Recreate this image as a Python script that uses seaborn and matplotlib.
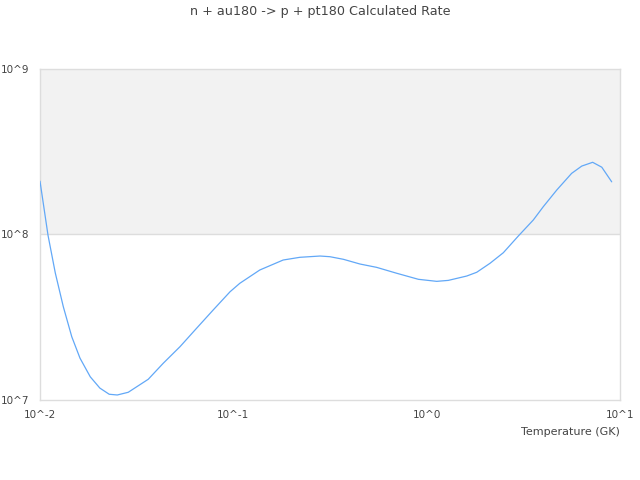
import numpy as np
import pandas as pd
import seaborn as sns
import matplotlib.pyplot as plt
from matplotlib.ticker import FuncFormatter, NullLocator

# temperature grid (GK) and calculated rate
temperature = [0.0100, 0.0110, 0.0120, 0.0132, 0.0146, 0.0161, 0.0182, 0.0204,
               0.0228, 0.0251, 0.0286, 0.0363, 0.0434, 0.0530, 0.0634, 0.0787,
               0.0962, 0.108, 0.137, 0.181, 0.221, 0.281, 0.316, 0.371,
               0.452, 0.551, 0.700, 0.906, 1.127, 1.294, 1.611, 1.815,
               2.127, 2.492, 2.979, 3.562, 4.01, 4.71, 5.62, 6.34,
               7.22, 8.05, 9.06]
rate = [2.10e8, 9.9e7, 5.85e7, 3.66e7, 2.41e7, 1.79e7, 1.38e7, 1.18e7,
        1.083e7, 1.072e7, 1.113e7, 1.334e7, 1.667e7, 2.10e7, 2.65e7, 3.50e7,
        4.51e7, 5.07e7, 6.10e7, 7.01e7, 7.28e7, 7.41e7, 7.34e7, 7.08e7,
        6.63e7, 6.33e7, 5.83e7, 5.36e7, 5.21e7, 5.28e7, 5.61e7, 5.91e7,
        6.70e7, 7.76e7, 9.79e7, 1.224e8, 1.472e8, 1.857e8, 2.34e8, 2.59e8,
        2.73e8, 2.55e8, 2.08e8]

title = "n + au180 -> p + pt180 Calculated Rate"
x_label = "Temperature (GK)"
x_ticks = [1e-2, 1e-1, 1e0, 1e1]
y_ticks = [1e7, 1e8, 1e9]

df = pd.DataFrame({"T": temperature, "rate": rate})

sns.set_style("white")
plt.rcParams["font.family"] = ["DejaVu Sans"]

fig = plt.figure(figsize=(6.4, 4.8), dpi=100)
ax = fig.add_axes([0.0625, 0.1667, 0.90625, 0.68958])

# alternating band between 10^8 and 10^9
ax.axhspan(1e8, 1e9, color="#f2f2f2", zorder=0, lw=0)
ax.axhline(1e8, color="#dddddd", lw=1, zorder=1)

sns.lineplot(data=df, x="T", y="rate", ax=ax, color="#62a8f7", lw=0.9, zorder=3)

ax.set_xscale("log")
ax.set_yscale("log")
ax.set_xlim(1e-2, 1e1)
ax.set_ylim(1e7, 1e9)
ax.set_xticks(x_ticks)
ax.set_yticks(y_ticks)
ax.xaxis.set_minor_locator(NullLocator())
ax.yaxis.set_minor_locator(NullLocator())
fmt = FuncFormatter(lambda v, p: f"10^{int(round(np.log10(v)))}")
ax.xaxis.set_major_formatter(fmt)
ax.yaxis.set_major_formatter(fmt)
ax.tick_params(axis="both", length=0, labelsize=7.5, labelcolor="#444444")
ax.tick_params(axis="y", pad=7.5)
ax.tick_params(axis="x", pad=7.5)

for s in ax.spines.values():
    s.set_color("#dddddd")
    s.set_linewidth(1)

ax.set_xlabel("")
ax.set_ylabel("")
fig.text(0.96875, 1 - 432 / 480, x_label, ha="right", va="center",
         fontsize=8, color="#444444")
fig.text(0.5, 1 - 12 / 480, title, ha="center", va="center",
         fontsize=9.2, color="#444444")

fig.savefig("out.png", dpi=100)
